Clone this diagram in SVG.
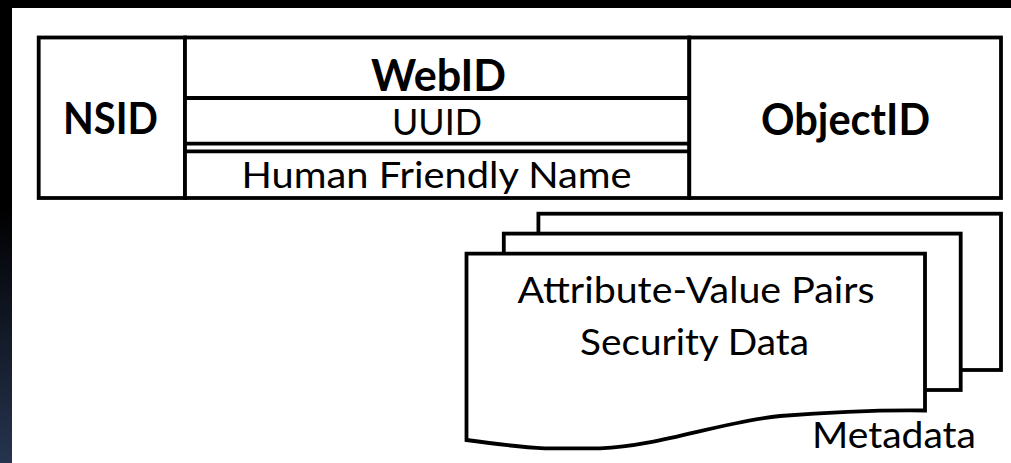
<svg xmlns="http://www.w3.org/2000/svg" width="1011" height="463" viewBox="0 0 1011 463">
  <defs>
    <linearGradient id="edgeShade" x1="0" y1="0" x2="0" y2="1">
      <stop offset="0" stop-color="#000000"/>
      <stop offset="0.45" stop-color="#000000"/>
      <stop offset="1" stop-color="#26344f"/>
    </linearGradient>
    <style>
      .cell { fill: #ffffff; stroke: #000000; stroke-width: 3.8; }
      .rule { stroke: #000000; stroke-width: 3.8; fill: none; }
      .sheet { fill: #ffffff; stroke: #000000; stroke-width: 3.8; stroke-linejoin: miter; }
      .bold { font-family: Lato, "Liberation Sans", sans-serif; font-weight: bold; font-size: 43px; fill: #000000; text-anchor: middle; }
      .reg { font-family: Lato, "Liberation Sans", sans-serif; font-size: 37px; fill: #000000; text-anchor: middle; }
    </style>
  </defs>

  <!-- page backdrop -->
  <rect x="0" y="0" width="1011" height="463" fill="#ffffff"/>
  <rect x="0" y="0" width="1011" height="8" fill="#000000"/>
  <rect x="0" y="0" width="12" height="463" fill="url(#edgeShade)"/>

  <!-- identifier record -->
  <g id="nsid">
    <rect class="cell" x="38.7" y="37.5" width="146.3" height="160.5"/>
    <text class="bold" x="110.5" y="134" textLength="95" lengthAdjust="spacingAndGlyphs">NSID</text>
  </g>

  <g id="webid">
    <rect class="cell" x="185" y="37.5" width="504.3" height="160.5"/>
    <line class="rule" x1="185" y1="98" x2="689.3" y2="98"/>
    <text class="bold" x="438.5" y="90.5" textLength="135" lengthAdjust="spacingAndGlyphs">WebID</text>
  </g>

  <g id="uuid">
    <line class="rule" x1="185" y1="143.7" x2="689.3" y2="143.7"/>
    <text class="reg" x="437" y="135" textLength="90" lengthAdjust="spacingAndGlyphs">UUID</text>
  </g>

  <g id="human-friendly-name">
    <line class="rule" x1="185" y1="151.3" x2="689.3" y2="151.3"/>
    <text class="reg" x="436.5" y="188" textLength="390" lengthAdjust="spacingAndGlyphs">Human Friendly Name</text>
  </g>

  <g id="objectid">
    <rect class="cell" x="689.3" y="37.5" width="311.7" height="160.5"/>
    <text class="bold" x="845.5" y="135" textLength="169" lengthAdjust="spacingAndGlyphs">ObjectID</text>
  </g>

  <!-- metadata stack -->
  <g id="metadata">
    <rect class="sheet" x="538.4" y="213.7" width="462.6" height="156.3"/>
    <rect class="sheet" x="503.8" y="233.6" width="456.9" height="156.4"/>
    <path class="sheet" d="M466.5,253.7 H925 V410.5 C880,410 830,412 780,416 C720,422 660,446 600,448.4 L545,448.4 C520,447 495,444 466.5,440 Z"/>
    <text class="reg" x="696" y="303" textLength="357" lengthAdjust="spacingAndGlyphs">Attribute-Value Pairs</text>
    <text class="reg" x="694.5" y="355" textLength="229" lengthAdjust="spacingAndGlyphs">Security Data</text>
    <text class="reg" x="894" y="448" textLength="164" lengthAdjust="spacingAndGlyphs">Metadata</text>
  </g>
</svg>
